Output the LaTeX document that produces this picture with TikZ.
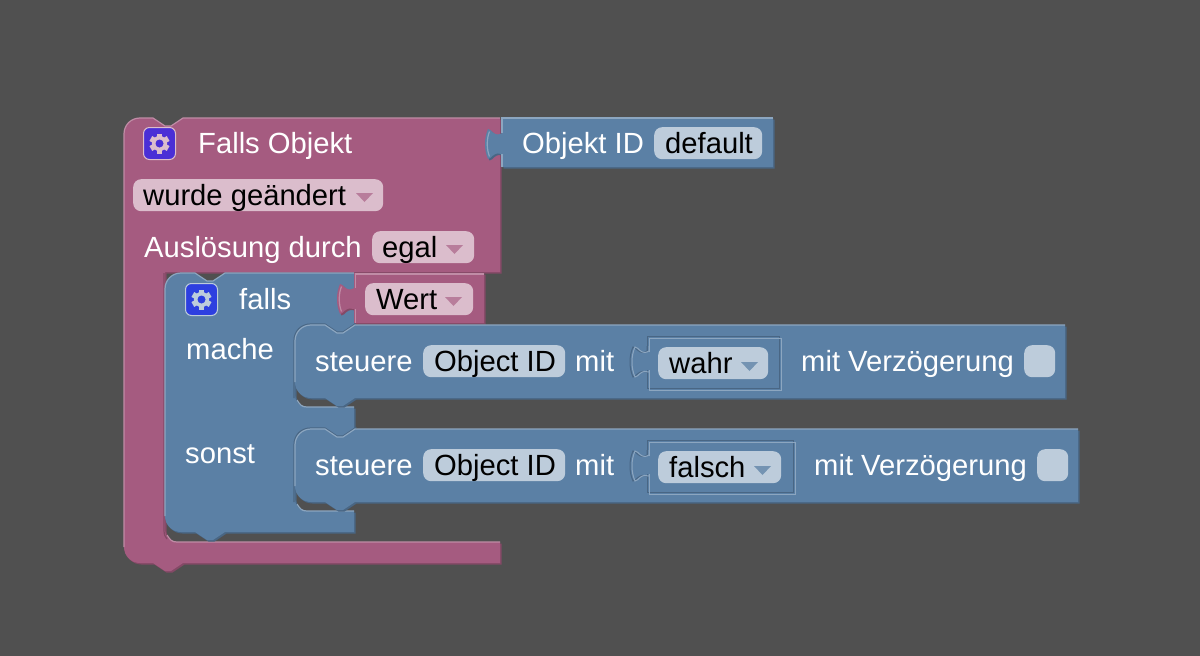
\documentclass[tikz,border=0pt]{standalone}
\usepackage{fontspec}
\setmainfont{Liberation Sans}
\definecolor{canvas}{HTML}{505050}
\definecolor{pinkfill}{HTML}{A55B80}
\definecolor{pinkdark}{HTML}{844966}
\definecolor{pinklight}{HTML}{C08CA6}
\definecolor{pinktint}{HTML}{DBBDCC}
\definecolor{bluefill}{HTML}{5B80A5}
\definecolor{bluedark}{HTML}{496684}
\definecolor{bluelight}{HTML}{8CA6C0}
\definecolor{bluetint}{HTML}{BDCCDB}
\definecolor{gearpink}{HTML}{4A2FD6}
\definecolor{gearblue}{HTML}{2D3FE0}

% block outline pieces, y runs downwards
\newcommand{\notchfwd}[2]{-- (#1,#2) -- ({#1+12},{#2+8}) -- ({#1+18},{#2+8}) -- ({#1+30},#2)}
\newcommand{\notchback}[2]{-- (#1,#2) -- ({#1-12},{#2+8}) -- ({#1-18},{#2+8}) -- ({#1-30},#2)}
\newcommand{\tabdown}[2]{-- (#1,{#2+5}) .. controls ({#1-3},{#2+7}) and ({#1-6},{#2+7}) .. ({#1-9},{#2+4.5})
  .. controls ({#1-11},{#2+3}) and ({#1-12},{#2+1}) .. ({#1-14},{#2+1})
  .. controls ({#1-18},{#2+10}) and ({#1-18},{#2+22}) .. ({#1-14},{#2+31})
  .. controls ({#1-12},{#2+31}) and ({#1-11},{#2+29}) .. ({#1-9},{#2+27.5})
  .. controls ({#1-6},{#2+25}) and ({#1-3},{#2+25}) .. (#1,{#2+26})}
\newcommand{\tabup}[2]{-- (#1,{#2+26}) .. controls ({#1-3},{#2+25}) and ({#1-6},{#2+25}) .. ({#1-9},{#2+27.5})
  .. controls ({#1-11},{#2+29}) and ({#1-12},{#2+31}) .. ({#1-14},{#2+31})
  .. controls ({#1-18},{#2+22}) and ({#1-18},{#2+10}) .. ({#1-14},{#2+1})
  .. controls ({#1-12},{#2+1}) and ({#1-11},{#2+3}) .. ({#1-9},{#2+4.5})
  .. controls ({#1-6},{#2+7}) and ({#1-3},{#2+7}) .. (#1,{#2+5})}
\newcommand{\tabshine}[3]{
  \draw[#3, hilite] ({#1-12.5},{#2+3.5}) .. controls ({#1-15.5},{#2+11}) and ({#1-15.5},{#2+21}) .. ({#1-12.5},{#2+28.5});
}

\newcommand{\paintblock}[3]{
  \fill[#1dark, shift={(1.5,1.5)}] #3;
  \fill[#2] #3;
}
\newcommand{\gearicon}[5]{
  \node[gearbox, fill=#4, draw=#5] (#1) at (#2,#3) {};
  \foreach \ang in {0,60,...,300}
    \fill[#5, shift={(#2,#3)}, rotate=\ang] (-2.8,-10) rectangle (2.8,-6);
  \fill[#5] (#2,#3) circle[radius=7.6];
  \fill[#4] (#2,#3) circle[radius=4];
}
\newcommand{\dropmark}[3]{
  \fill[#3] (#1,#2) -- ({#1+17},#2) -- ({#1+8.5},{#2+9}) -- cycle;
}

\newcommand{\outerpath}{(124,134) .. controls (124,125) and (131,118) .. (140,118)
  \notchfwd{153}{118} -- (500,118) -- (500,272) -- (165,272) -- (165,530)
  .. controls (165,537) and (170,542) .. (177,542) -- (500,542) -- (500,563)
  \notchback{183}{563} -- (140,563) .. controls (131,563) and (124,556) .. (124,547) -- cycle}
\newcommand{\objidpath}{(502,118) -- (773,118) -- (773,167) -- (502,167) \tabup{502}{128} -- cycle}
\newcommand{\fallspath}{(165,289) .. controls (165,280) and (172,273) .. (181,273)
  \notchfwd{195}{273} -- (354,273) -- (354,325) \notchback{355}{325} -- (307,325)
  .. controls (300,325) and (295,330) .. (295,337) -- (295,395)
  .. controls (295,402) and (300,407) .. (307,407) -- (354,407) -- (354,429)
  \notchback{355}{429} -- (307,429) .. controls (300,429) and (295,434) .. (295,441) -- (295,499)
  .. controls (295,506) and (300,511) .. (307,511) -- (354,511) -- (354,532)
  \notchback{225}{532} -- (181,532) .. controls (172,532) and (165,525) .. (165,516) -- cycle}
\newcommand{\wertpath}{(354,273) -- (484,273) -- (484,323) -- (354,323) \tabup{354}{283} -- cycle}
\newcommand{\steuerepath}[2]{(295,{#1+16}) .. controls (295,{#1+7}) and (302,#1) .. (311,#1)
  \notchfwd{325}{#1} -- (#2,#1) -- (#2,{#1+73}) \notchback{355}{#1+73} -- (311,{#1+73})
  .. controls (302,{#1+73}) and (295,{#1+66}) .. (295,{#1+57}) -- cycle}

\tikzset{
  blockfont/.style={font=\fontsize{29.2}{34}\selectfont},
  lbl/.style={blockfont, anchor=base west, inner sep=0pt, text=white},
  fieldtext/.style={blockfont, anchor=base west, inner sep=0pt, text=black},
  fieldbox/.style={anchor=north west, inner sep=0pt, rounded corners=8pt, minimum height=32pt},
  gearbox/.style={rounded corners=6pt, minimum width=32pt, minimum height=32pt,
                  inner sep=0pt, line width=1pt},
  hilite/.style={line width=1.2pt},
  inset/.style={line width=1pt}
}

\begin{document}
\begin{tikzpicture}[x=1pt,y=-1pt]
\useasboundingbox (0,0) rectangle (1200,656);
\fill[canvas] (0,0) rectangle (1200,656);

% outer block
\paintblock{pink}{pinkfill}{\outerpath}
\draw[pinklight, hilite] (124,547) -- (124,134) .. controls (124,125) and (131,118) .. (140,118)
  \notchfwd{153}{118} -- (500,118);
\draw[pinkdark, hilite] (164,273) -- (164,530) .. controls (164,534) and (165,537) .. (167,539);
\draw[pinklight, hilite] (167,535) .. controls (170,540) and (172,542) .. (177,542) -- (500,542);

% value block next to the header
\paintblock{blue}{bluefill}{\objidpath}
\draw[bluelight, hilite] (773,118) -- (502,118) -- (502,133);
\draw[bluelight, hilite] (502,154) -- (502,167);
\tabshine{502}{128}{bluelight}

% if block
\paintblock{blue}{bluefill}{\fallspath}
\draw[bluelight, hilite] (165,516) -- (165,289) .. controls (165,280) and (172,273) .. (181,273)
  \notchfwd{195}{273} -- (354,273);
\draw[bluedark, hilite] (354,324) \notchback{355}{324} -- (311,324)
  .. controls (301,324) and (294,331) .. (294,341) -- (294,398);
\draw[bluelight, hilite] (297,400) .. controls (300,405) and (302,407) .. (307,407) -- (354,407);
\draw[bluedark, hilite] (354,428) \notchback{355}{428} -- (311,428)
  .. controls (301,428) and (294,435) .. (294,445) -- (294,502);
\draw[bluelight, hilite] (297,504) .. controls (300,509) and (302,511) .. (307,511) -- (354,511);

% condition block
\paintblock{pink}{pinkfill}{\wertpath}
\draw[pinklight, hilite] (484,274) -- (355.5,274) -- (355.5,288);
\draw[pinklight, hilite] (355.5,309) -- (355.5,323);
\tabshine{354}{283}{pinklight}

% statement blocks
\paintblock{blue}{bluefill}{\steuerepath{325}{1065}}
\draw[bluelight, hilite] (295,382) -- (295,341) .. controls (295,332) and (302,325) .. (311,325)
  \notchfwd{325}{325} -- (1065,325);
\paintblock{blue}{bluefill}{\steuerepath{429}{1078}}
\draw[bluelight, hilite] (295,486) -- (295,445) .. controls (295,436) and (302,429) .. (311,429)
  \notchfwd{325}{429} -- (1078,429);

% inset outlines
\draw[bluedark, inset] (647,336) rectangle (779,388);
\draw[bluelight, inset] (649,338) rectangle (781,390);
\fill[bluefill] (644,352) rectangle (651,370);
\draw[bluedark, inset] (647,346) \tabdown{647}{346} -- (647,372);
\draw[bluelight, inset] (649,346) \tabdown{649}{346} -- (649,372);
\draw[bluedark, inset] (647,440) rectangle (793,492);
\draw[bluelight, inset] (649,442) rectangle (795,494);
\fill[bluefill] (644,456) rectangle (651,474);
\draw[bluedark, inset] (647,450) \tabdown{647}{450} -- (647,476);
\draw[bluelight, inset] (649,450) \tabdown{649}{450} -- (649,476);

% gears
\gearicon{gearouter}{159.5}{143.5}{gearpink}{pinktint}
\gearicon{gearinner}{201.5}{299.5}{gearblue}{bluetint}

% fields
\node[fieldbox, fill=pinktint, minimum width=250pt] (fchange) at (133,179) {};
\node[fieldbox, fill=pinktint, minimum width=102pt] (fegal) at (372,231) {};
\node[fieldbox, fill=pinktint, minimum width=108pt] (fwert) at (365,283) {};
\node[fieldbox, fill=bluetint, minimum width=108pt] (fdefault) at (654,127) {};
\node[fieldbox, fill=bluetint, minimum width=142pt] (fobj1) at (423,345) {};
\node[fieldbox, fill=bluetint, minimum width=110pt] (fwahr) at (658,347) {};
\node[fieldbox, fill=bluetint, minimum width=31pt] (fcheck1) at (1024,345) {};
\node[fieldbox, fill=bluetint, minimum width=142pt] (fobj2) at (423,449) {};
\node[fieldbox, fill=bluetint, minimum width=123pt] (ffalsch) at (658,451) {};
\node[fieldbox, fill=bluetint, minimum width=31pt] (fcheck2) at (1037,449) {};

\dropmark{356}{193}{pinkfill!65!pinktint}
\dropmark{446}{245}{pinkfill!65!pinktint}
\dropmark{445}{297}{pinkfill!65!pinktint}
\dropmark{741}{362}{bluefill!75!bluetint}
\dropmark{754}{466}{bluefill!75!bluetint}

% labels
\node[lbl] (tfalls) at (198,153) {Falls Objekt};
\node[lbl] (tobjid) at (522,153) {Objekt ID};
\node[fieldtext] (tdefault) at (665,153) {default};
\node[fieldtext] (tchange) at (143,205) {wurde geändert};
\node[lbl] (tausl) at (144,257) {Auslösung durch};
\node[fieldtext] (tegal) at (382,257) {egal};
\node[lbl] (tif) at (239,309) {falls};
\node[fieldtext] (twert) at (376,309) {Wert};
\node[lbl] (tmache) at (186,359) {mache};
\node[lbl] (tsonst) at (185,463) {sonst};
\node[lbl] (tst1) at (315,371) {steuere};
\node[fieldtext] (tobj1) at (434,371) {Object ID};
\node[lbl] (tmit1) at (575,371) {mit};
\node[fieldtext] (twahr) at (669,373) {wahr};
\node[lbl] (tverz1) at (801,371) {mit Verzögerung};
\node[lbl] (tst2) at (315,475) {steuere};
\node[fieldtext] (tobj2) at (434,475) {Object ID};
\node[lbl] (tmit2) at (575,475) {mit};
\node[fieldtext] (tfalsch) at (669,477) {falsch};
\node[lbl] (tverz2) at (814,475) {mit Verzögerung};
\end{tikzpicture}
\end{document}
